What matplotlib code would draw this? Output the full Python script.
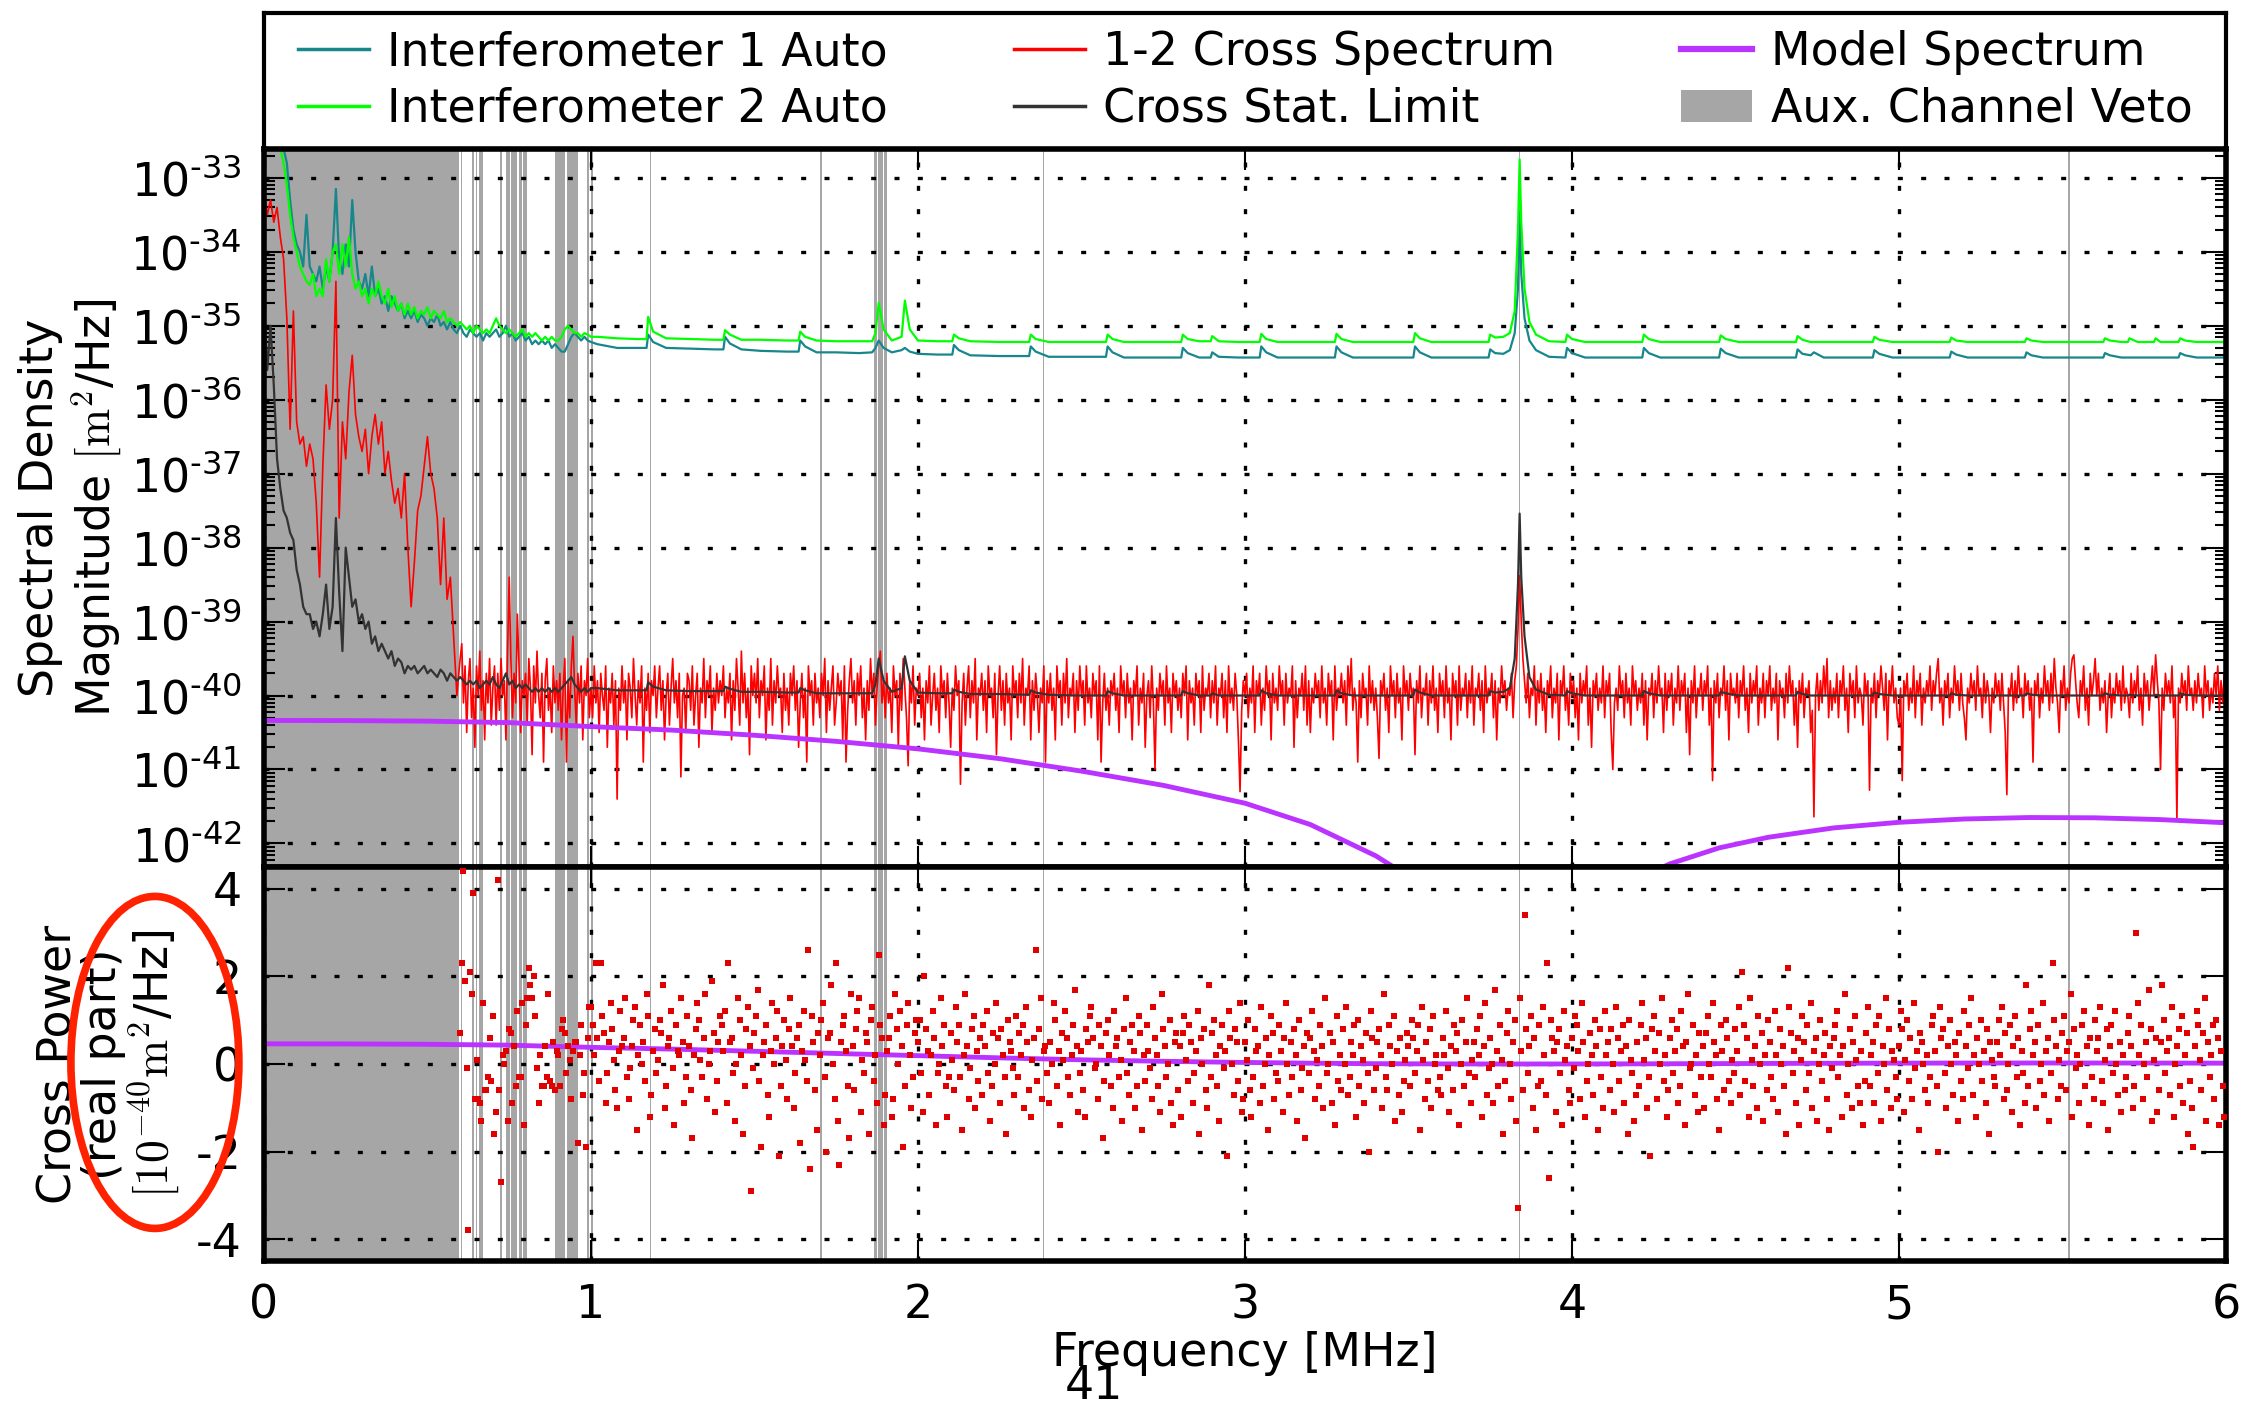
import numpy as np
import matplotlib
matplotlib.use("Agg")
import matplotlib.pyplot as plt
from matplotlib.lines import Line2D
from matplotlib.patches import Patch, Ellipse
from matplotlib.ticker import LogLocator, NullFormatter

plt.rcParams['font.family'] = 'DejaVu Sans'
plt.rcParams['mathtext.fontset'] = 'cm'
plt.rcParams['axes.unicode_minus'] = False

# ---------------- data (log10 of spectral density, m^2/Hz) ----------------
# auto spectra + stat limit, 0.00 .. 1.00 MHz in 0.01 MHz bins
step_lo = 0.01
teal_lo = [-32.0, -32.1, -32.2, -32.3, -32.4, -32.5, -32.6, -32.8, -33.3, -33.7,
           -33.9, -34.0, -34.2, -33.5, -34.2, -34.3, -34.4, -34.2, -34.5, -34.2,
           -34.4, -34.0, -33.15, -34.1, -34.3, -33.9, -34.2, -33.3, -34.0, -34.4,
           -34.5, -34.3, -34.6, -34.2, -34.6, -34.5, -34.7, -34.6, -34.8, -34.6,
           -34.7, -34.8, -34.7, -34.9, -34.8, -34.9, -34.8, -34.95, -34.85, -34.9,
           -35.0, -34.9, -34.95, -34.85, -35.0, -34.95, -35.05, -34.95, -35.05, -35.1,
           -35.0, -35.1, -35.15, -35.05, -35.1, -35.15, -35.1, -35.2, -35.1, -35.15,
           -35.1, -35.05, -35.15, -35.1, -35.0, -35.15, -35.1, -35.2, -35.15, -35.1,
           -35.2, -35.15, -35.25, -35.2, -35.25, -35.2, -35.25, -35.2, -35.3, -35.25,
           -35.3, -35.35, -35.35, -35.25, -35.15, -35.1, -35.15, -35.2, -35.15, -35.2,
           -35.22]
green_lo = [-32.1, -32.2, -32.3, -32.4, -32.5, -32.6, -32.8, -33.1, -33.5, -33.8,
            -34.0, -34.2, -34.3, -34.4, -34.45, -34.3, -34.6, -34.5, -34.6, -34.1,
            -34.4, -34.0, -33.9, -34.3, -33.9, -34.2, -33.8, -34.3, -34.5, -34.4,
            -34.6, -34.5, -34.7, -34.5, -34.6, -34.4, -34.6, -34.7, -34.5, -34.75,
            -34.6, -34.8, -34.7, -34.85, -34.7, -34.85, -34.75, -34.9, -34.8, -34.85,
            -34.75, -34.9, -34.8, -34.85, -34.9, -34.8, -34.95, -34.9, -34.95, -35.0,
            -34.95, -35.0, -35.05, -35.0, -35.1, -35.0, -35.05, -35.1, -35.05, -35.1,
            -35.0, -34.9, -35.0, -35.05, -35.1, -35.05, -35.1, -35.15, -35.1, -35.05,
            -35.15, -35.1, -35.15, -35.1, -35.15, -35.2, -35.15, -35.2, -35.15, -35.2,
            -35.2, -35.15, -35.05, -35.0, -35.05, -35.1, -35.1, -35.15, -35.1, -35.12,
            -35.15]
black_lo = [-34.7, -35.6, -35.0, -35.8, -36.8, -37.2, -37.5, -37.6, -37.8, -37.9,
            -38.3, -38.5, -38.8, -38.9, -38.9, -39.1, -39.0, -39.2, -38.9, -38.5,
            -39.1, -38.8, -37.6, -38.6, -39.4, -38.0, -38.4, -38.8, -38.7, -39.0,
            -38.9, -39.1, -39.0, -39.3, -39.2, -39.4, -39.3, -39.4, -39.5, -39.4,
            -39.6, -39.5, -39.55, -39.7, -39.6, -39.65, -39.6, -39.7, -39.65, -39.6,
            -39.7, -39.65, -39.7, -39.75, -39.65, -39.7, -39.8, -39.7, -39.75, -39.8,
            -39.75, -39.8, -39.85, -39.8, -39.85, -39.8, -39.9, -39.85, -39.8, -39.85,
            -39.75, -39.85, -39.9, -39.8, -39.7, -39.85, -39.8, -39.9, -39.85, -39.9,
            -39.85, -39.9, -39.95, -39.9, -39.95, -39.9, -39.95, -39.9, -39.95, -39.9,
            -39.95, -39.9, -39.85, -39.8, -39.75, -39.85, -39.9, -39.95, -39.9, -39.95,
            -39.9]

# auto spectra + stat limit above 1 MHz (baseline with harmonic peaks)
hi_f = [1.02, 1.08, 1.14, 1.17, 1.175, 1.19, 1.23, 1.30, 1.38, 1.405,
        1.41, 1.425, 1.46, 1.52, 1.60, 1.635, 1.64, 1.655, 1.69, 1.75,
        1.82, 1.86, 1.87, 1.88, 1.895, 1.92, 1.95, 1.96, 1.975, 2.00,
        2.06, 2.105, 2.11, 2.125, 2.16, 2.25, 2.34, 2.345, 2.36, 2.40,
        2.48, 2.575, 2.58, 2.595, 2.63, 2.72, 2.805, 2.81, 2.825, 2.86,
        2.895, 2.90, 2.92, 2.98, 3.045, 3.05, 3.065, 3.10, 3.20, 3.275,
        3.28, 3.295, 3.33, 3.43, 3.515, 3.52, 3.535, 3.57, 3.66, 3.745,
        3.75, 3.765, 3.79, 3.81, 3.825, 3.835, 3.84, 3.845, 3.855, 3.87,
        3.89, 3.93, 3.98, 3.985, 4.00, 4.04, 4.13, 4.215, 4.22, 4.235,
        4.27, 4.36, 4.45, 4.455, 4.47, 4.51, 4.60, 4.685, 4.69, 4.705,
        4.73, 4.74, 4.77, 4.84, 4.92, 4.925, 4.94, 4.98, 5.07, 5.155,
        5.16, 5.175, 5.21, 5.30, 5.385, 5.39, 5.405, 5.44, 5.54, 5.625,
        5.63, 5.645, 5.68, 5.70, 5.705, 5.73, 5.78, 5.785, 5.80, 5.855,
        5.86, 5.875, 5.91, 6.00]
teal_hi = [-35.25, -35.3, -35.3, -35.3, -35.12, -35.22, -35.3, -35.31, -35.32, -35.32,
           -35.15, -35.24, -35.32, -35.34, -35.35, -35.35, -35.2, -35.28, -35.36, -35.36,
           -35.37, -35.36, -35.3, -35.2, -35.3, -35.36, -35.33, -35.3, -35.35, -35.38,
           -35.39, -35.39, -35.26, -35.33, -35.4, -35.41, -35.41, -35.28, -35.35, -35.42,
           -35.42, -35.42, -35.28, -35.36, -35.43, -35.43, -35.43, -35.3, -35.37, -35.43,
           -35.43, -35.36, -35.42, -35.43, -35.43, -35.28, -35.36, -35.43, -35.43, -35.43,
           -35.28, -35.36, -35.43, -35.43, -35.43, -35.28, -35.36, -35.43, -35.43, -35.43,
           -35.32, -35.37, -35.38, -35.33, -35.1, -34.5, -33.46, -34.3, -34.9, -35.2,
           -35.33, -35.42, -35.43, -35.3, -35.37, -35.43, -35.43, -35.43, -35.3, -35.37,
           -35.43, -35.43, -35.43, -35.31, -35.37, -35.43, -35.43, -35.43, -35.32, -35.38,
           -35.4, -35.36, -35.43, -35.43, -35.43, -35.33, -35.38, -35.43, -35.43, -35.43,
           -35.35, -35.39, -35.43, -35.43, -35.43, -35.36, -35.4, -35.43, -35.43, -35.43,
           -35.37, -35.4, -35.43, -35.43, -35.43, -35.43, -35.43, -35.43, -35.43, -35.43,
           -35.37, -35.4, -35.43, -35.43]
green_hi = [-35.15, -35.17, -35.18, -35.18, -34.88, -35.08, -35.17, -35.18, -35.19, -35.19,
            -35.06, -35.12, -35.19, -35.19, -35.2, -35.2, -35.08, -35.15, -35.2, -35.21,
            -35.21, -35.21, -35.1, -34.69, -35.05, -35.2, -35.15, -34.66, -35.05, -35.2,
            -35.21, -35.21, -35.12, -35.17, -35.21, -35.22, -35.22, -35.12, -35.18, -35.22,
            -35.22, -35.22, -35.12, -35.18, -35.22, -35.22, -35.22, -35.12, -35.18, -35.21,
            -35.21, -35.14, -35.21, -35.22, -35.22, -35.11, -35.18, -35.22, -35.22, -35.22,
            -35.11, -35.18, -35.22, -35.22, -35.22, -35.1, -35.17, -35.22, -35.22, -35.22,
            -35.12, -35.16, -35.15, -35.1, -34.8, -33.7, -32.75, -33.6, -34.5, -34.95,
            -35.12, -35.21, -35.22, -35.12, -35.18, -35.22, -35.22, -35.22, -35.12, -35.18,
            -35.22, -35.22, -35.22, -35.13, -35.18, -35.22, -35.22, -35.22, -35.14, -35.19,
            -35.22, -35.22, -35.22, -35.22, -35.22, -35.15, -35.19, -35.22, -35.22, -35.22,
            -35.16, -35.2, -35.22, -35.22, -35.22, -35.17, -35.2, -35.22, -35.22, -35.22,
            -35.17, -35.2, -35.22, -35.22, -35.17, -35.22, -35.22, -35.17, -35.22, -35.22,
            -35.17, -35.2, -35.22, -35.22]
black_hi = [-39.9, -39.93, -39.93, -39.93, -39.82, -39.88, -39.93, -39.94, -39.94, -39.94,
            -39.88, -39.91, -39.95, -39.95, -39.96, -39.96, -39.9, -39.93, -39.97, -39.97,
            -39.97, -39.97, -39.85, -39.5, -39.8, -39.95, -39.9, -39.47, -39.8, -39.96,
            -39.97, -39.97, -39.92, -39.95, -39.98, -39.98, -39.99, -39.93, -39.96, -39.99,
            -40.0, -40.0, -39.94, -39.97, -40.0, -40.0, -40.0, -39.94, -39.97, -40.0,
            -40.0, -39.97, -40.0, -40.0, -40.0, -39.93, -39.97, -40.0, -40.0, -40.0,
            -39.93, -39.97, -40.0, -40.0, -40.0, -39.92, -39.96, -40.0, -40.0, -40.0,
            -39.94, -39.96, -39.95, -39.9, -39.5, -38.5, -37.54, -38.4, -39.2, -39.75,
            -39.92, -39.99, -40.0, -39.94, -39.97, -40.0, -40.0, -40.0, -39.94, -39.97,
            -40.0, -40.0, -40.0, -39.95, -39.97, -40.0, -40.0, -40.0, -39.95, -39.98,
            -40.0, -40.0, -40.0, -40.0, -40.0, -39.96, -39.98, -40.0, -40.0, -40.0,
            -39.97, -39.99, -40.0, -40.0, -40.0, -39.97, -39.99, -40.0, -40.0, -40.0,
            -39.97, -39.99, -40.0, -40.0, -39.99, -40.0, -40.0, -39.99, -40.0, -40.0,
            -39.97, -39.99, -40.0, -40.0]

# 1-2 cross spectrum magnitude: 0.00 .. 0.59 MHz in 0.01 MHz bins
red_lo = [-33.2, -33.5, -33.3, -33.6, -33.4, -33.8, -34.1, -34.9, -36.4, -34.8,
          -36.3, -36.6, -36.5, -36.9, -36.6, -36.8, -37.4, -38.4, -36.9, -35.8,
          -36.4, -36.0, -34.4, -37.6, -36.3, -36.8, -35.9, -35.4, -36.2, -36.5,
          -36.7, -36.4, -37.0, -36.5, -36.2, -36.6, -36.3, -37.0, -36.7, -37.1,
          -37.4, -37.2, -37.6, -37.0, -38.0, -38.8, -38.2, -37.5, -37.3, -36.9,
          -36.5, -37.0, -37.2, -37.6, -38.5, -37.6, -38.7, -38.4, -39.2, -40.0]
# ... and 0.600 .. 6.000 MHz in 0.005 MHz bins
red_hi = [-39.5, -39.3, -40.1, -39.6, -40.5, -39.8, -39.5, -40.3, -39.9, -40.7, -39.6, -40.0, -39.4, -40.2, -39.8, -40.6, -39.7, -40.1, -39.5, -40.4,
          -39.9, -39.6, -40.4, -39.7, -40.2, -39.5, -40.0, -39.8, -40.6, -39.4, -38.4, -39.5, -40.3, -39.7, -40.1, -38.9, -39.6, -40.5, -39.8, -40.0,
          -39.7, -40.4, -39.5, -39.9, -40.8, -39.6, -40.1, -39.4, -40.0, -40.3, -39.7, -40.9, -39.8, -39.5, -40.2, -39.9, -40.5, -39.6, -40.1, -39.8,
          -40.2, -39.7, -40.6, -39.9, -39.5, -40.9, -39.8, -40.3, -39.6, -39.2, -39.9, -40.4, -39.7, -40.1, -39.6, -40.6, -39.8, -40.0, -39.5, -40.3,
          -39.9, -40.3, -39.6, -40.1, -39.8, -40.5, -39.7, -40.0, -40.2, -39.6, -40.7, -39.9, -40.1, -39.7, -40.4, -39.8, -41.4, -39.9, -40.2, -39.6,
          -40.1, -39.8, -40.6, -39.7, -39.9, -40.3, -39.5, -40.0, -40.4, -39.8, -40.1, -39.6, -40.9, -39.9, -40.2, -39.7, -40.5, -39.8, -40.0, -39.6,
          -40.3, -39.9, -39.6, -40.2, -39.8, -40.6, -40.0, -39.7, -40.4, -39.9, -39.5, -40.1, -39.8, -40.3, -39.7, -41.1, -40.0, -39.9, -40.5, -39.7,
          -39.8, -40.2, -39.6, -40.4, -40.0, -39.7, -40.7, -39.9, -40.1, -39.5, -40.3, -39.8, -40.0, -39.6, -40.5, -39.9, -40.2, -39.7, -40.1, -39.8,
          -40.0, -39.6, -40.3, -39.9, -40.1, -39.7, -40.6, -39.8, -40.2, -39.5, -39.9, -40.4, -39.4, -40.1, -39.7, -40.3, -39.9, -40.8, -39.6, -40.0,
          -39.7, -40.1, -39.5, -40.3, -39.8, -40.0, -39.6, -40.6, -39.9, -40.2, -39.5, -40.4, -39.8, -40.1, -39.6, -40.0, -39.9, -40.5, -39.7, -40.2,
          -39.9, -40.4, -39.7, -40.0, -39.6, -40.2, -39.8, -40.7, -40.1, -39.7, -40.3, -39.9, -40.9, -39.6, -40.0, -39.8, -40.4, -39.7, -40.1, -39.9,
          -40.3, -39.7, -40.0, -39.5, -40.5, -39.8, -40.2, -39.9, -39.6, -40.4, -40.1, -39.7, -40.0, -39.8, -40.6, -39.6, -40.9, -40.2, -39.8, -39.5,
          -40.1, -39.8, -40.4, -39.7, -40.0, -39.6, -40.3, -39.9, -40.6, -39.8, -40.2, -39.5, -40.0, -39.7, -40.4, -39.9, -39.6, -39.4, -40.1, -39.8,
          -40.3, -39.7, -40.1, -39.9, -40.5, -39.6, -40.0, -39.8, -40.7, -39.7, -40.2, -39.5, -39.9, -40.3, -40.95, -39.8, -40.1, -39.6, -40.4, -39.9,
          -40.0, -39.7, -40.3, -39.9, -40.6, -39.8, -40.1, -39.6, -40.4, -40.0, -39.7, -40.2, -39.9, -40.5, -39.6, -40.0, -39.8, -40.3, -39.7, -40.1,
          -40.7, -39.9, -40.2, -39.6, -40.0, -39.8, -41.2, -40.1, -39.7, -40.4, -39.9, -39.6, -40.3, -39.8, -40.1, -39.5, -40.6, -39.9, -40.0, -39.7,
          -40.2, -39.8, -40.5, -39.6, -40.0, -39.9, -40.3, -39.7, -40.8, -40.0, -39.6, -40.2, -39.8, -40.4, -39.7, -40.1, -39.9, -40.6, -39.6, -40.0,
          -39.8, -40.3, -39.7, -40.1, -39.5, -40.4, -39.9, -40.0, -39.6, -40.6, -39.8, -40.2, -39.7, -40.0, -40.5, -39.9, -40.1, -39.6, -40.9, -39.8,
          -40.1, -39.7, -40.2, -39.9, -40.6, -39.6, -40.0, -39.8, -40.4, -39.7, -40.1, -39.5, -40.3, -39.9, -40.0, -39.7, -40.5, -39.8, -40.2, -39.6,
          -40.0, -39.8, -40.4, -39.6, -40.1, -39.9, -40.3, -39.7, -40.0, -39.8, -40.6, -39.6, -40.9, -40.1, -39.7, -40.2, -39.9, -40.4, -39.8, -40.0,
          -39.7, -40.2, -39.9, -40.5, -39.6, -40.0, -39.8, -40.3, -39.7, -40.1, -39.9, -40.6, -39.8, -40.0, -39.6, -40.4, -39.9, -40.1, -39.7, -40.7,
          -40.0, -39.8, -40.3, -39.6, -40.1, -41.0, -39.9, -40.2, -39.7, -40.0, -39.8, -40.4, -39.6, -40.1, -39.9, -40.5, -39.7, -40.0, -39.8, -40.2,
          -39.9, -40.3, -39.7, -40.0, -39.6, -40.6, -39.8, -40.1, -39.9, -40.4, -39.7, -40.0, -39.8, -40.5, -39.6, -40.2, -39.9, -40.0, -39.7, -40.3,
          -39.8, -40.1, -39.6, -40.4, -39.9, -40.0, -39.7, -40.3, -39.8, -40.5, -39.6, -40.1, -39.9, -40.2, -39.7, -40.0, -40.6, -41.3, -40.2, -39.8,
          -40.0, -39.7, -40.3, -39.9, -40.1, -39.6, -40.5, -39.8, -40.0, -39.7, -40.4, -39.9, -40.2, -39.6, -40.0, -39.8, -40.6, -39.7, -40.1, -39.9,
          -40.2, -39.6, -40.0, -39.8, -40.4, -39.7, -40.1, -39.9, -40.0, -39.6, -40.7, -39.8, -40.3, -39.9, -40.0, -39.7, -40.2, -39.6, -40.4, -39.8,
          -40.5, -39.9, -40.1, -39.7, -40.0, -39.8, -40.3, -39.6, -40.1, -39.9, -40.4, -39.7, -40.0, -39.8, -40.6, -39.6, -40.2, -39.9, -40.0, -39.7,
          -40.1, -39.8, -40.4, -39.6, -40.0, -39.5, -40.2, -39.9, -40.1, -40.9, -39.8, -40.3, -39.7, -40.0, -39.9, -40.4, -39.6, -40.1, -39.8, -40.2,
          -39.9, -40.3, -40.85, -39.8, -40.0, -39.7, -40.2, -39.9, -40.5, -39.6, -40.0, -39.8, -40.3, -39.7, -40.1, -39.9, -40.6, -39.6, -40.0, -39.8,
          -40.2, -39.7, -40.0, -39.9, -40.8, -39.8, -40.1, -39.6, -40.3, -39.9, -40.0, -39.7, -40.4, -39.8, -40.1, -39.6, -40.2, -39.9, -40.5, -39.7,
          -40.0, -39.8, -40.3, -39.6, -40.1, -39.9, -40.6, -39.7, -40.0, -39.8, -40.4, -39.6, -40.2, -39.9, -40.0, -39.7, -40.3, -39.8, -40.1, -39.6,
          -40.4, -39.9, -40.0, -39.7, -40.2, -39.8, -40.5, -39.6, -40.1, -39.9, -40.0, -39.7, -40.3, -39.8, -40.6, -39.9, -40.1, -39.6, -40.0, -39.8,
          -40.2, -39.9, -40.0, -39.7, -40.3, -39.8, -39.6, -39.1, -38.38, -39.0, -39.5, -39.8, -40.1, -39.7, -40.3, -39.9, -40.0, -39.6, -40.4, -39.8,
          -40.1, -39.7, -40.2, -39.9, -40.5, -39.8, -40.0, -39.6, -40.3, -39.9, -40.1, -39.7, -40.6, -39.8, -40.0, -39.6, -40.2, -39.9, -40.4, -39.7,
          -40.0, -39.8, -40.3, -39.9, -40.6, -39.7, -40.1, -39.8, -40.0, -39.6, -40.4, -39.9, -40.7, -39.8, -40.0, -39.7, -40.2, -39.9, -40.1, -39.6,
          -40.3, -39.8, -40.0, -39.7, -40.5, -41.0, -40.1, -39.9, -40.2, -39.6, -40.0, -39.8, -40.3, -39.7, -40.1, -39.9, -40.4, -39.6, -40.0, -39.8,
          -40.2, -39.9, -40.1, -39.7, -40.4, -39.8, -40.6, -39.9, -40.0, -39.7, -40.3, -39.8, -40.1, -39.6, -40.0, -39.9, -40.5, -39.7, -40.2, -39.8,
          -40.0, -39.7, -40.4, -39.9, -40.1, -39.6, -40.2, -39.8, -40.0, -39.7, -40.5, -39.9, -40.8, -39.8, -40.1, -39.6, -40.3, -39.9, -40.0, -39.7,
          -40.2, -39.8, -40.0, -39.6, -40.4, -39.9, -41.15, -39.8, -40.1, -39.7, -40.3, -39.9, -40.0, -39.6, -40.2, -39.8, -40.6, -39.7, -40.0, -39.9,
          -40.1, -39.7, -40.3, -39.8, -40.0, -39.6, -40.2, -39.9, -40.5, -39.7, -40.1, -39.8, -40.0, -39.6, -40.4, -39.9, -40.1, -39.7, -40.3, -39.8,
          -40.0, -39.6, -40.2, -39.9, -40.1, -39.7, -40.6, -39.8, -40.0, -39.9, -40.3, -39.7, -40.1, -39.6, -40.0, -39.8, -40.4, -39.9, -40.7, -39.8,
          -40.1, -39.7, -40.3, -39.9, -40.0, -39.8, -40.5, -40.2, -41.64, -40.0, -39.7, -40.2, -39.8, -40.1, -39.6, -40.0, -39.5, -40.3, -39.8, -40.2,
          -39.9, -40.1, -39.7, -40.3, -39.8, -40.0, -39.6, -40.2, -39.9, -40.5, -39.7, -40.0, -39.8, -40.3, -39.6, -40.1, -39.9, -40.0, -40.4, -39.7,
          -40.0, -39.8, -41.28, -39.9, -40.1, -39.7, -40.3, -39.8, -40.0, -39.6, -39.9, -40.2, -39.7, -40.6, -39.8, -40.0, -39.6, -40.1, -39.9, -40.3,
          -40.4, -39.9, -41.15, -39.8, -40.0, -39.7, -40.2, -39.9, -40.1, -39.6, -40.3, -39.8, -40.0, -39.7, -40.4, -39.9, -40.1, -39.8, -40.0, -39.6,
          -40.2, -39.8, -40.0, -39.7, -39.5, -40.1, -39.9, -40.4, -39.8, -40.0, -39.7, -40.3, -39.9, -40.1, -39.6, -40.0, -39.8, -40.2, -39.7, -40.1,
          -40.3, -40.6, -39.9, -40.1, -39.7, -40.0, -39.8, -40.2, -39.6, -40.0, -39.9, -40.3, -39.7, -40.1, -39.8, -40.0, -40.5, -39.9, -40.1, -39.7,
          -40.0, -39.8, -40.2, -39.7, -40.1, -40.5, -41.34, -39.9, -40.0, -39.7, -40.2, -39.8, -40.1, -39.6, -40.0, -39.9, -40.3, -39.7, -40.0, -39.8,
          -40.2, -39.9, -40.9, -39.8, -40.0, -39.7, -40.3, -39.9, -40.1, -39.6, -40.0, -39.8, -40.2, -39.7, -40.1, -39.5, -39.9, -40.1, -40.5, -39.8,
          -40.0, -39.6, -40.2, -39.9, -40.1, -39.7, -39.5, -39.45, -39.8, -40.1, -40.3, -39.8, -40.0, -39.6, -40.2, -39.9, -40.4, -39.7, -40.0, -39.8,
          -39.5, -40.0, -39.7, -40.2, -39.9, -40.1, -39.8, -40.5, -40.0, -39.7, -40.3, -39.9, -40.1, -39.7, -40.0, -39.8, -40.2, -39.6, -40.1, -39.9,
          -40.0, -40.3, -39.7, -40.1, -39.8, -40.0, -39.6, -40.2, -39.9, -40.4, -39.7, -40.0, -39.8, -40.2, -39.9, -39.6, -40.0, -39.45, -39.8, -40.1,
          -41.0, -39.9, -40.2, -39.7, -40.0, -39.8, -40.1, -39.6, -40.3, -40.0, -41.69, -39.9, -40.1, -39.7, -40.0, -39.8, -40.2, -39.6, -40.0, -39.9,
          -40.2, -39.8, -40.1, -39.7, -40.0, -39.9, -40.3, -39.6, -40.0, -39.8, -40.2, -39.9, -40.1, -39.7, -40.0, -39.6, -40.2, -39.8, -40.1, -39.7,
          -39.9]

# real part of cross power [1e-40 m^2/Hz], 0.600 .. 5.995 MHz in 0.005 MHz bins
cross_re = [0.7, 2.3, 4.4, 1.9, -0.1, -3.8, 2.1, 1.6, 3.9, -0.8, 0.1, -0.8, -0.9, -1.3, 1.4, -0.6, -0.6, -0.3, 0.6, -0.4,
            1.1, -1.6, -1.1, 4.2, -0.6, -2.7, 0.2, 0.0, 0.3, -1.3, 0.8, 0.7, -0.9, 0.4, -0.5, 1.2, -0.3, -0.3, 1.4, -1.4,
            0.9, 1.5, 2.2, 1.8, 1.5, 2.0, 1.1, -0.1, -0.9, 0.2, -0.5, -0.5, 0.4, -0.3, 1.6, -0.4, -0.5, 0.5, -0.6, 0.3,
            0.2, -0.5, 0.8, 1.0, 0.7, -0.2, 0.4, 0.1, -0.8, 0.3, 0.5, 0.5, -1.8, 0.2, 0.9, -0.7, -0.2, -1.9, 0.6, 1.3,
            1.3, 0.9, 0.2, 2.3, 0.6, -0.4, 2.3, 1.1, 0.7, -0.9, -0.2, 0.5, 1.4, 0.8, 0.1, -0.6, -1.0, 0.3, 1.2, 0.4,
            0.6, 1.5, -0.3, -0.8, -0.1, 0.4, 1.0, 1.3, -1.5, 0.2, 0.9, 0.0, 0.5, -0.4, 1.6, 1.1, -1.2, -0.7, 0.3, 0.8,
            -0.2, 0.1, 1.0, 0.7, 1.8, -1.0, -0.5, 0.4, 0.6, 1.2, -0.1, -1.4, 0.9, 0.3, 0.2, 1.5, 0.5, -0.9, -0.3, 1.1,
            0.4, -0.6, -1.7, 0.2, 0.8, 1.4, 1.0, 0.1, -0.3, 0.6, 1.6, -0.8, 0.0, 0.3, 1.9, 0.7, -1.1, -0.4, 0.5, 1.1,
            0.9, 0.3, 1.2, -0.9, 2.3, 0.5, 0.6, -0.2, -1.3, 0.0, 1.5, 1.0, 0.2, -1.6, -0.5, 0.8, 1.3, 0.4, -2.9, -0.1,
            0.7, 1.1, 1.7, -0.4, -1.9, 0.2, 0.5, 0.9, -0.7, -1.2, 0.3, 1.4, 0.0, 0.6, 1.2, -2.1, -0.5, 0.4, 1.0, 0.1,
            -0.8, 0.8, 1.5, 0.4, -1.0, -0.2, 0.6, 0.9, -1.8, 0.3, 1.2, 0.1, -0.4, 2.6, -2.4, 1.1, 0.5, -0.6, -1.5, 0.7,
            0.2, 1.0, 1.4, -0.3, -2.0, 0.6, 0.7, 1.8, 0.0, -0.8, 2.3, -1.3, -2.3, 0.5, 0.9, 1.1, 0.3, -0.5, -1.7, 1.6,
            0.4, -0.6, 0.8, 1.2, 1.5, -1.1, 0.1, -0.2, 0.7, 0.5, -1.6, 1.0, 1.3, -0.4, 0.2, -0.9, 2.5, 0.9, 0.6, -1.4,
            -0.7, 0.3, 0.6, 1.1, -1.2, -0.8, 1.6, 0.8, 0.0, 1.2, 0.4, -1.9, -0.5, 0.9, 1.4, 0.2, -1.0, -0.3, 0.7, 1.0,
            0.5, 1.0, -0.2, -1.1, 2.0, 0.8, 0.3, -0.7, 0.2, 1.2, 0.6, -1.4, -0.2, 0.0, 1.5, 0.4, 0.9, -0.5, -1.2, -0.3,
            0.7, 0.1, -0.6, 1.3, 0.5, 0.9, -0.3, -1.5, 0.2, 1.6, 0.4, -0.8, -0.1, 0.8, 1.1, -1.0, 0.3, -0.4, 0.6, -0.7,
            0.9, 0.4, 1.2, -0.2, -1.3, -0.5, 0.7, 0.0, 1.4, 0.6, -0.9, 0.8, 0.2, -0.3, -1.6, 1.0, 0.5, 0.3, -0.1, -0.7,
            1.1, -0.3, 0.7, 0.2, 0.9, -1.0, 1.3, 0.5, -0.6, -1.2, 0.1, 0.6, 2.6, -0.4, 0.8, 1.5, -0.8, 0.3, 0.4, -0.2,
            -0.9, 0.5, 0.0, 1.4, 1.0, -0.5, 0.3, -1.4, 0.7, 0.1, 1.2, 0.6, -0.3, -0.7, 0.2, 0.9, 1.7, 0.4, -1.1, -0.2,
            0.3, -0.6, -1.2, 0.8, 0.5, 1.1, 1.3, 0.6, -0.1, 0.0, -0.8, 0.9, 0.4, -1.7, -0.4, 0.7, 1.0, 0.2, -0.5, -1.0,
            1.2, 0.4, 0.6, -0.3, 0.1, -1.3, 0.8, 1.5, -0.2, -0.7, 0.5, 0.9, 0.3, -1.0, -0.5, 1.1, 0.7, -1.5, 0.2, -0.4,
            0.9, 0.3, -0.1, -0.8, 1.3, 0.6, 0.2, -0.5, -1.1, 1.6, 0.8, 0.4, -0.3, 0.0, 1.0, -0.9, -1.4, 0.5, 0.7, -0.6,
            0.4, -1.2, 0.7, 1.1, 0.1, -0.4, 0.9, 0.5, -0.9, -0.2, 0.3, 1.2, -1.6, 0.6, 0.0, 0.8, -0.6, -1.0, 1.8, -0.3,
            0.7, 1.0, 0.2, -0.5, -1.3, 0.4, 0.9, -0.1, 0.3, -2.1, 1.2, 0.6, 0.0, -0.7, 0.8, 0.5, -0.4, 1.4, -1.1, -0.8,
            0.5, 0.1, 1.0, -0.6, -1.2, -0.3, 0.8, 0.3, 0.4, -0.9, 1.3, -0.5, 0.0, 0.6, -1.5, 0.2, 1.1, 0.7, -0.8, -0.2,
            -0.4, 0.9, 0.3, -1.1, 0.6, 1.4, 0.0, -0.7, 0.5, -0.3, 0.8, 0.2, -1.3, 1.0, -0.6, -0.1, 0.4, -1.7, 0.7, -0.2,
            0.6, 1.2, 0.3, -0.8, 0.1, -0.5, 0.9, 0.4, -1.0, 1.5, -0.2, 0.0, 0.7, -0.9, 0.5, -1.4, 1.1, -0.4, 0.2, -0.6,
            0.8, 0.0, 1.3, -0.7, -0.3, 0.5, 0.2, 0.9, -1.2, 1.0, -0.5, 0.4, 0.1, -0.9, 0.7, -0.2, -2.0, 1.2, 0.6, -0.6,
            -0.1, 0.5, 0.8, 0.2, -1.0, 1.6, -0.3, -0.6, 0.9, 0.4, 0.0, 1.1, -1.3, 0.3, -0.7, 0.6, -1.1, -0.4, 0.1, 0.7,
            0.4, -0.5, 1.0, 0.6, -0.2, 0.3, 0.9, -1.5, 1.3, 0.1, -0.8, 0.5, -0.4, 0.8, -1.0, 1.1, 0.0, 0.2, -0.6, -0.3,
            -0.7, 0.6, 0.2, 1.2, -0.1, -1.1, 0.4, -0.6, 0.9, 0.3, 0.7, -1.4, 0.0, 1.0, -0.5, 0.5, 1.5, -0.2, -0.9, 0.1,
            0.5, -0.3, 0.8, 0.2, 1.1, -1.2, 0.4, 1.4, -0.7, -0.1, 0.6, 0.0, -0.9, 1.7, 0.3, -0.5, 0.9, 0.1, -1.6, -0.4,
            0.7, 1.2, 0.0, -0.8, 0.5, 1.0, -1.3, -3.3, 1.5, 0.3, -0.6, 3.4, 0.8, -0.2, 0.4, 1.1, -1.0, 0.6, -1.5, -0.5,
            0.9, -0.4, 1.3, 0.2, -0.7, 2.3, -2.6, 1.0, 0.6, 0.3, -1.1, 0.5, 0.8, -0.2, -1.4, 1.2, 0.1, 0.4, -0.6, -0.9,
            0.6, -0.1, 1.1, 0.9, 0.3, -0.8, 1.4, 0.5, -1.2, -0.4, 0.0, 0.7, 0.2, -0.7, 1.0, 0.4, -1.5, 0.8, -0.3, -1.0,
            1.2, 0.2, 0.5, -0.6, 0.8, 0.0, -1.1, 1.3, 0.6, -0.4, 0.3, 0.9, -0.9, 0.4, -1.6, 1.0, 0.1, -0.2, -1.3, -0.7,
            0.5, -0.5, 0.9, 1.4, 0.1, 0.6, -1.0, -0.3, -2.1, 0.8, 1.1, 0.3, -0.8, 0.7, 0.0, 1.5, -0.4, 0.2, -1.2, -0.6,
            0.6, 1.0, -0.2, 0.3, 0.8, -0.9, -0.5, 1.2, 0.4, -1.4, 0.5, 1.6, -0.1, 0.0, 0.9, -0.7, 0.2, -1.1, 0.7, -0.3,
            0.4, -1.0, 0.7, 1.1, 0.0, -0.3, 1.4, 0.5, 0.2, -0.8, -1.5, 0.9, 0.3, -0.6, 1.0, 0.6, -0.4, -0.9, 0.1, -0.2,
            0.8, 0.3, 1.3, -0.7, 2.1, 0.9, -0.4, 0.6, -1.2, 1.5, 0.1, -0.5, 0.4, -1.0, 1.1, 0.0, 0.7, -1.3, 0.2, -0.6,
            1.0, 0.5, -0.3, -0.8, 1.2, 0.2, -1.1, 0.8, 0.0, 0.4, -0.5, -1.6, 2.2, 1.3, 0.7, -0.2, 0.3, -0.9, 0.6, -1.4,
            0.1, 1.1, 0.5, -0.6, 0.9, -0.2, 1.4, -1.0, 0.3, 0.6, -1.3, 0.0, 1.0, -0.4, 0.2, 0.7, -0.8, -1.5, 0.4, -0.1,
            0.6, 0.9, 1.2, -0.3, 0.2, -1.2, 0.4, 1.6, -0.7, 0.0, 0.8, -1.0, 0.5, 1.1, 0.1, -0.5, -0.9, 0.3, -1.4, -0.4,
            0.7, 1.3, -0.5, 0.2, 0.5, -0.9, 0.9, -0.2, 1.1, -1.3, 0.4, 0.0, 1.5, -0.6, 0.8, -1.0, 0.3, 0.1, -0.3, -0.8,
            0.4, 1.2, 0.8, -1.1, 0.1, 1.0, -0.4, 0.6, -0.8, 1.4, -0.1, 0.3, -1.5, 0.7, 0.5, 0.0, -0.6, 0.2, -0.9, -0.3,
            0.9, 1.1, 0.3, -0.5, -2.0, 1.3, 0.6, 0.8, -0.2, -1.0, 0.4, 1.0, 0.0, -0.7, 0.5, 0.2, -1.3, 0.7, -0.4, -0.8,
            1.2, 0.4, -0.1, 0.9, 1.5, -0.7, 0.2, -1.2, 0.6, 0.0, 1.0, -0.4, 0.3, -0.9, 0.8, -1.6, 0.5, 0.1, -0.3, -0.5,
            0.5, 1.0, 0.2, 1.3, -0.8, 0.7, -0.6, 0.0, 0.9, -1.1, 0.4, 1.1, -0.3, 0.6, -1.4, 0.3, -0.2, -0.9, 1.8, -0.5,
            0.8, 1.2, 0.2, 0.5, -1.0, 0.9, -0.4, 0.0, 1.4, -0.7, 0.3, 0.6, -1.3, -0.2, 2.3, 1.0, 0.4, -0.8, 0.1, -0.5,
            0.7, 1.1, -0.6, 0.3, 0.5, 1.6, -1.2, 0.8, -0.1, 0.2, -0.9, 0.0, 0.9, 1.2, -0.5, 0.4, -1.4, 0.6, -0.3, -0.8,
            1.0, 0.3, 0.6, 1.3, -0.4, -0.9, 0.1, 0.8, -1.5, 0.4, 0.9, -0.2, 1.2, 0.0, -0.7, 0.5, -1.1, 0.2, -0.6, -0.3,
            0.7, 1.1, 0.4, -1.0, -0.5, 3.0, 1.4, 0.2, 0.9, -0.8, 0.0, 0.5, -0.3, 1.7, 0.8, -1.3, 0.1, 0.6, -1.1, -0.6,
            0.5, 1.8, 1.0, -0.2, 0.3, 0.6, -0.7, 1.3, -1.2, 0.0, 0.4, 0.8, -0.5, 1.1, -0.9, 0.2, 0.7, -1.6, -0.4, -1.0,
            -1.9, 0.4, 1.2, 0.9, 0.1, -0.6, 0.7, 1.5, -1.3, 0.5, -0.3, 0.2, 0.9, -0.8, 1.0, 0.6, -1.4, 0.3, -0.5, -1.2]

# model spectrum [1e-40 m^2/Hz]
model_f = [0.0, 0.25, 0.5, 0.75, 1.0, 1.25, 1.5, 1.75, 2.0, 2.25, 2.5, 2.75, 3.0, 3.2, 3.4,
           3.55, 3.65, 3.75, 3.82, 3.86, 3.92, 4.0, 4.1, 4.2, 4.3, 4.45, 4.6, 4.8, 5.0,
           5.2, 5.4, 5.6, 5.8, 6.0]
model_val = [0.46, 0.458, 0.45, 0.43, 0.38, 0.34, 0.29, 0.24, 0.19, 0.14, 0.095, 0.061, 0.035,
             0.018, 0.0068, 0.0026, 0.0011, 0.0003, 0.00004, 0.000001, 0.00009, 0.0006, 0.0017,
             0.0033, 0.0053, 0.0087, 0.0121, 0.0162, 0.0193, 0.0214, 0.0224, 0.0222, 0.021, 0.019]

# auxiliary channel veto bands [MHz]
veto = [(0.0, 0.597), (0.602, 0.607), (0.636, 0.641), (0.648, 0.653), (0.659, 0.670),
        (0.721, 0.728), (0.739, 0.752), (0.757, 0.774), (0.779, 0.789), (0.792, 0.804),
        (0.889, 0.920), (0.926, 0.960), (0.987, 0.994), (1.001, 1.007), (1.180, 1.185),
        (1.701, 1.706), (1.867, 1.876), (1.879, 1.893), (1.897, 1.905), (2.382, 2.387),
        (3.837, 3.842), (5.517, 5.522)]

labels = ['Interferometer 1 Auto', 'Interferometer 2 Auto', '1-2 Cross Spectrum',
          'Cross Stat. Limit', 'Model Spectrum', 'Aux. Channel Veto']

c_teal = '#18878c'
c_green = '#00ff00'
c_red = '#ff0000'
c_black = '#333333'
c_purple = '#bb33ff'
c_veto = '#a6a6a6'

# ---------------- assemble ----------------
f_lo = np.arange(len(teal_lo)) * step_lo
f_auto = np.concatenate([f_lo, hi_f])
teal = 10.0 ** np.concatenate([teal_lo, teal_hi])
green = 10.0 ** np.concatenate([green_lo, green_hi])
black = 10.0 ** np.concatenate([black_lo, black_hi])
f_red = np.concatenate([np.arange(len(red_lo)) * 0.01, 0.6 + np.arange(len(red_hi)) * 0.005])
red = 10.0 ** np.array(red_lo + red_hi)
f_cross = 0.6 + np.arange(len(cross_re)) * 0.005
model_f = np.array(model_f)
model_val = np.array(model_val)

fs = 33
grid_ls = (0, (1.5, 5.5))

fig = plt.figure(figsize=(22.58, 14.02), dpi=100)
L, W = 0.1169, 0.8689
lax = fig.add_axes([L, 0.8937, W, 0.0972])
ax1 = fig.add_axes([L, 0.3816, W, 0.5121])
ax2 = fig.add_axes([L, 0.1006, W, 0.2810])

# legend box
lax.set_xticks([])
lax.set_yticks([])
for s in lax.spines.values():
    s.set_linewidth(3)
handles = [Line2D([], [], color=c_teal, lw=2.5), Line2D([], [], color=c_green, lw=2.5),
           Line2D([], [], color=c_red, lw=2.5), Line2D([], [], color=c_black, lw=2.5),
           Line2D([], [], color=c_purple, lw=4.5), Patch(facecolor=c_veto, edgecolor='none')]
lax.legend(handles, labels, loc='center', ncol=3, frameon=False, fontsize=fs,
           handlelength=1.55, handletextpad=0.4, columnspacing=2.75, labelspacing=0.25,
           borderaxespad=0, borderpad=0)

# upper panel
for a, b in veto:
    ax1.axvspan(a, b, color=c_veto, lw=0, zorder=0)
ax1.plot(f_auto, teal, color=c_teal, lw=1.6, zorder=2)
ax1.plot(f_auto, green, color=c_green, lw=1.6, zorder=2.1)
ax1.plot(f_red, red, color=c_red, lw=1.2, zorder=2.2)
ax1.plot(f_auto, black, color=c_black, lw=1.6, zorder=2.3)
ax1.plot(model_f, model_val * 1e-40, color=c_purple, lw=3.5, zorder=2.4)
ax1.set_yscale('log')
ax1.set_xlim(0, 6)
ax1.set_ylim(4.8e-43, 2.45e-33)
exps = list(range(-42, -32))
ax1.set_yticks([10.0 ** e for e in exps])
ax1.set_yticklabels(['$\\mathregular{10^{\u2010%d}}$' % (-e) for e in exps])
ax1.yaxis.set_minor_locator(LogLocator(base=10, subs=range(2, 10), numticks=50))
ax1.yaxis.set_minor_formatter(NullFormatter())
ax1.set_xticks(range(7))
ax1.tick_params(labelbottom=False)
ax1.set_ylabel('Spectral Density\nMagnitude $[\\mathrm{m}^2$/Hz]', fontsize=fs,
               linespacing=1.15)
ax1.yaxis.set_label_coords(-0.0714, 0.5)

# lower panel
for a, b in veto:
    ax2.axvspan(a, b, color=c_veto, lw=0, zorder=0)
ax2.plot(model_f, model_val, color=c_purple, lw=3.5, zorder=2)
ax2.plot(f_cross, cross_re, 's', color='#e00000', ms=4, mew=0, zorder=3)
ax2.set_xlim(0, 6)
ax2.set_ylim(-4.5, 4.5)
ax2.set_yticks([-4, -2, 0, 2, 4])
ax2.set_xticks(range(7))
ax2.set_xlabel('Frequency [MHz]', fontsize=fs, labelpad=2)
ax2.set_ylabel('Cross Power\n(real part)\n$[10^{-40}\\mathrm{m}^2$/Hz]', fontsize=fs,
               linespacing=1.0)
ax2.yaxis.set_label_coords(-0.042, 0.5)

for ax in (ax1, ax2):
    ax.grid(True, which='major', color='k', linestyle=grid_ls, linewidth=2.4)
    ax.tick_params(which='both', direction='in', top=True, right=True, width=1.5,
                   labelsize=fs, pad=16)
    ax.tick_params(which='major', length=15)
    ax.tick_params(which='minor', length=8)
    for s in ax.spines.values():
        s.set_linewidth(4)

# hand-drawn mark around the lower axis label, and page number
fig.add_artist(Ellipse((0.0686, 0.2422), 0.0744, 0.2368, transform=fig.transFigure,
                       fill=False, ec='#ff2200', lw=5.5))
fig.text(0.4845, 0.027, '41', ha='center', va='top', fontsize=fs)

fig.savefig('out.png', dpi=100)
